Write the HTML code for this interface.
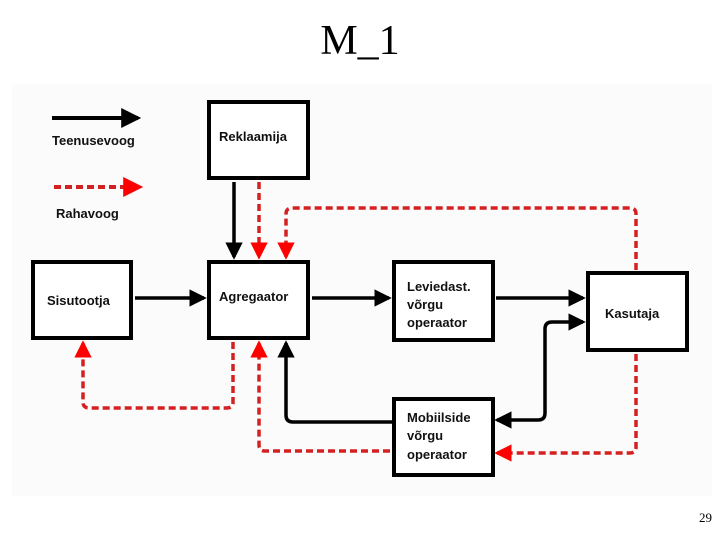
<!DOCTYPE html>
<html><head><meta charset="utf-8"><style>
html,body{margin:0;padding:0;background:#fff;}
svg{display:block;}
</style></head><body>
<svg width="720" height="540" viewBox="0 0 720 540" xmlns="http://www.w3.org/2000/svg">
<rect x="0" y="0" width="720" height="540" fill="#fff"/>
<rect x="12" y="84" width="700" height="412" fill="#fbfbfb"/>
<text x="360" y="54" text-anchor="middle" font-family="Liberation Serif, serif" font-size="42">M_1</text>
<text x="712" y="522" text-anchor="end" font-family="Liberation Serif, serif" font-size="13">29</text>
<defs>
<marker id="ab" markerWidth="5" markerHeight="5" refX="4.2" refY="2.5" orient="auto-start-reverse" markerUnits="strokeWidth"><path d="M0,0 L5,2.5 L0,5 z" fill="#000"/></marker>
<marker id="ar" markerWidth="5" markerHeight="5" refX="4.2" refY="2.5" orient="auto-start-reverse" markerUnits="strokeWidth"><path d="M0,0 L5,2.5 L0,5 z" fill="#f00"/></marker>
</defs>
<g font-family="Liberation Sans, sans-serif" font-weight="bold" font-size="13" fill="#111">
<line x1="52" y1="118" x2="138" y2="118" stroke="#000" stroke-width="4" marker-end="url(#ab)"/>
<text x="52" y="145">Teenusevoog</text>
<line x1="54" y1="187" x2="140" y2="187" stroke="#d42020" stroke-width="4" stroke-dasharray="7,4" marker-end="url(#ar)"/>
<text x="56" y="218">Rahavoog</text>
<g stroke="#000" stroke-width="3.5" fill="none">
<line x1="234" y1="182" x2="234" y2="257" marker-end="url(#ab)"/>
<line x1="135" y1="298" x2="204" y2="298" marker-end="url(#ab)"/>
<line x1="312" y1="298" x2="389" y2="298" marker-end="url(#ab)"/>
<line x1="496" y1="298" x2="583" y2="298" marker-end="url(#ab)"/>
<path d="M497,420 L538,420 Q545,420 545,413 L545,329 Q545,322 552,322 L583,322" marker-start="url(#ab)" marker-end="url(#ab)"/>
<path d="M392,422 L293,422 Q286,422 286,415 L286,343" marker-end="url(#ab)"/>
</g>
<g stroke="#d42020" stroke-width="3.5" fill="none" stroke-dasharray="7,4">
<line x1="259" y1="182" x2="259" y2="257" marker-end="url(#ar)"/>
<path d="M636,270 L636,214 Q636,208 630,208 L292,208 Q286,208 286,214 L286,257" marker-end="url(#ar)"/>
<path d="M636,354 L636,447 Q636,453 630,453 L497,453" marker-end="url(#ar)"/>
<path d="M390,451 L265,451 Q259,451 259,445 L259,343" marker-end="url(#ar)"/>
<path d="M233,342 L233,402 Q233,408 227,408 L89,408 Q83,408 83,402 L83,343" marker-end="url(#ar)"/>
</g>
<g fill="#fff" stroke="#000" stroke-width="4">
<rect x="209" y="102" width="99" height="76"/>
<rect x="33" y="262" width="98" height="76"/>
<rect x="209" y="262" width="99" height="76"/>
<rect x="394" y="262" width="99" height="78"/>
<rect x="588" y="273" width="99" height="77"/>
<rect x="394" y="399" width="99" height="76"/>
</g>
<text x="219" y="141">Reklaamija</text>
<text x="47" y="305">Sisutootja</text>
<text x="219" y="301">Agregaator</text>
<text x="407" y="291">Leviedast.</text>
<text x="407" y="309">võrgu</text>
<text x="407" y="327">operaator</text>
<text x="605" y="318">Kasutaja</text>
<text x="407" y="422">Mobiilside</text>
<text x="407" y="440">võrgu</text>
<text x="407" y="459">operaator</text>
</g>
</svg>
</body></html>
